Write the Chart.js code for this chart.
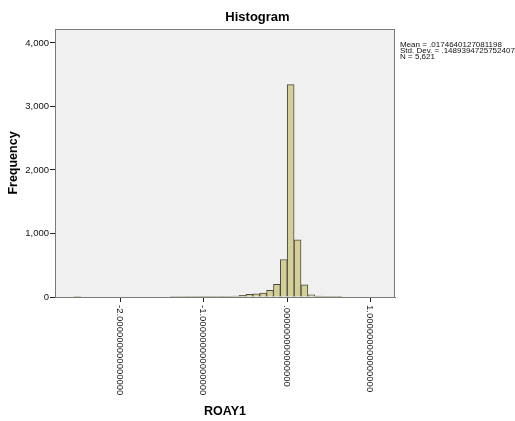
<!DOCTYPE html>
<html>
<head>
<meta charset="utf-8">
<title>Histogram</title>
<script src="https://cdn.jsdelivr.net/npm/chart.js@4.4.1/dist/chart.umd.min.js"></script>
<style>
  body { margin: 0; background: #fff; }
  #wrap { width: 515px; height: 421px; }
</style>
</head>
<body>
<div id="wrap"><canvas id="chart-area" width="515" height="421"></canvas></div>
<script>
// bin middles (ROAY1) and frequencies
var binMids = [-2.5132, -1.3596, -1.2772, -1.1948, -1.1124, -1.0300, -0.9476, -0.8652,
    -0.7828, -0.7004, -0.6180, -0.5356, -0.4532, -0.3708, -0.2884, -0.2060, -0.1236,
    -0.0412, 0.0412, 0.1236, 0.2060, 0.2884, 0.3708, 0.4532, 0.5356, 0.6180];
var binCounts = [1, 1, 1, 2, 2, 3, 4, 5,
    7, 10, 16, 25, 42, 48, 60, 105, 200,
    590, 3345, 900, 190, 35, 14, 9, 4, 3];

var xTickValues = [-2, -1, 0, 1];
var xTickLabels = ['-2.000000000000000', '-1.000000000000000', '.000000000000000', '1.000000000000000'];
var yTickValues = [0, 1000, 2000, 3000, 4000];
var yTickLabels = ['0', '1,000', '2,000', '3,000', '4,000'];

var statsLines = ['Mean = .0174640127081198', 'Std. Dev. = .1489394725752407', 'N = 5,621'];

var points = [];
for (var i = 0; i < binMids.length; i++) {
    points.push({x: binMids[i], y: binCounts[i]});
}

var spssLook = {
    id: 'spssLook',
    beforeDatasetsDraw: function(chart) {
        var a = chart.chartArea, ctx = chart.ctx;
        ctx.save();
        ctx.fillStyle = '#f0f0f0';
        ctx.fillRect(a.left, a.top, a.right - a.left, a.bottom - a.top);
        ctx.restore();
    },
    afterDraw: function(chart) {
        var a = chart.chartArea, ctx = chart.ctx, xs = chart.scales.x;
        ctx.save();
        // frame
        ctx.strokeStyle = '#7a7a7a';
        ctx.lineWidth = 1;
        ctx.strokeRect(a.left + 0.5, a.top + 0.5, a.right - a.left - 1, a.bottom - a.top);
        // vertical x tick labels, reading downward
        ctx.fillStyle = '#111';
        ctx.font = '9.5px Arial, "Liberation Sans", sans-serif';
        ctx.textAlign = 'left';
        ctx.textBaseline = 'middle';
        for (var i = 0; i < xTickValues.length; i++) {
            var px = xs.getPixelForValue(xTickValues[i]);
            ctx.save();
            ctx.translate(px - 1, xs.top + 8);
            ctx.rotate(Math.PI / 2);
            ctx.fillText(xTickLabels[i], 0, 0);
            ctx.restore();
        }
        // stats box text
        ctx.font = '8px Arial, "Liberation Sans", sans-serif';
        ctx.textBaseline = 'middle';
        for (var j = 0; j < statsLines.length; j++) {
            ctx.fillText(statsLines[j], a.right + 5, 45 + j * 6);
        }
        ctx.restore();
    }
};

var config = {
    type: 'bar',
    data: {
        datasets: [{
            label: 'ROAY1',
            data: points,
            backgroundColor: '#d4cf96',
            borderColor: '#4a4a42',
            borderWidth: 1,
            barPercentage: 1,
            categoryPercentage: 1
        }]
    },
    options: {
        responsive: false,
        animation: false,
        layout: {padding: 0},
        plugins: {
            legend: {display: false},
            tooltip: {enabled: false},
            title: {
                display: true,
                text: 'Histogram',
                color: '#000',
                font: {family: 'Arial, "Liberation Sans", sans-serif', size: 13, weight: 'bold'},
                padding: {top: 10, bottom: 3.4}
            }
        },
        scales: {
            x: {
                type: 'linear',
                min: -2.78,
                max: 1.29,
                offset: false,
                grid: {drawOnChartArea: false, offset: false, tickLength: 5, color: '#222'},
                border: {color: '#7a7a7a'},
                ticks: {display: false},
                afterBuildTicks: function(scale) {
                    scale.ticks = xTickValues.map(function(v) { return {value: v}; });
                },
                title: {
                    display: true,
                    text: 'ROAY1',
                    color: '#000',
                    font: {family: 'Arial, "Liberation Sans", sans-serif', size: 12.5, weight: 'bold'},
                    padding: {top: 0, bottom: 1.5}
                },
                afterFit: function(scale) { scale.height = 124; }
            },
            y: {
                min: 0,
                max: 4220,
                grid: {drawOnChartArea: false, tickLength: 5, color: '#222'},
                border: {color: '#7a7a7a'},
                afterBuildTicks: function(scale) {
                    scale.ticks = yTickValues.map(function(v) { return {value: v}; });
                },
                ticks: {
                    padding: 1,
                    color: '#111',
                    font: {family: 'Arial, "Liberation Sans", sans-serif', size: 9.5},
                    callback: function(value) {
                        var k = yTickValues.indexOf(value);
                        return k < 0 ? '' : yTickLabels[k];
                    }
                },
                title: {
                    display: true,
                    text: 'Frequency',
                    color: '#000',
                    font: {family: 'Arial, "Liberation Sans", sans-serif', size: 12.5, weight: 'bold'},
                    padding: {top: 6.5, bottom: 0}
                },
                afterFit: function(scale) { scale.width = 55; }
            },
            side: {
                position: 'right',
                display: true,
                grid: {display: false},
                border: {display: false},
                ticks: {display: false},
                afterFit: function(scale) { scale.width = 120; }
            }
        }
    },
    plugins: [spssLook]
};

window.onload = function() {
    var ctx = document.getElementById('chart-area');
    if (typeof ctx !== 'undefined' && ctx !== null) {
        window.myHistogram = new Chart(ctx.getContext('2d'), config);
    }
};
</script>
</body>
</html>
